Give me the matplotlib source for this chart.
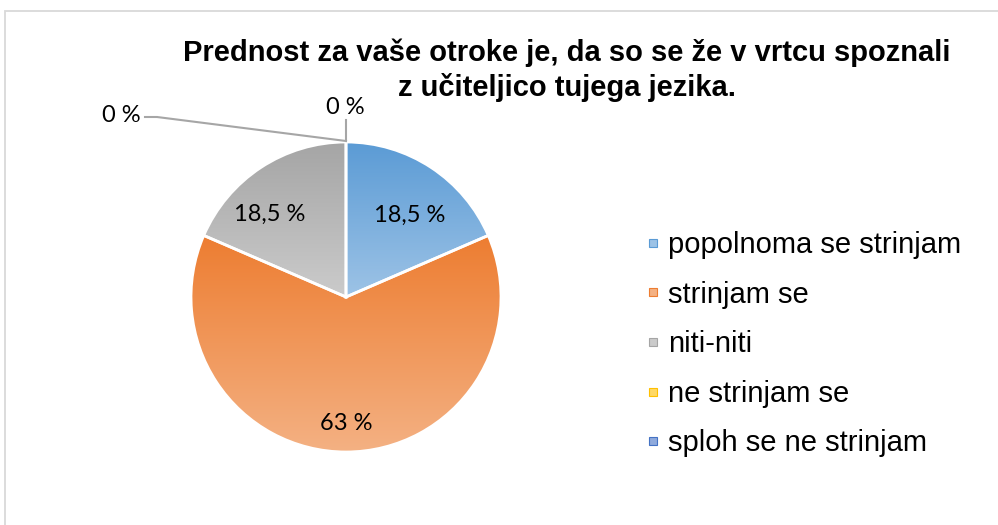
import numpy as np
import matplotlib
matplotlib.use("Agg")
import matplotlib.pyplot as plt
from matplotlib.colors import LinearSegmentedColormap
from matplotlib.lines import Line2D
from matplotlib.patches import Rectangle

# ---- data ----
categories = ["popolnoma se strinjam", "strinjam se", "niti-niti",
              "ne strinjam se", "sploh se ne strinjam"]
values = [18.5, 63, 18.5, 0, 0]
title_lines = ["Prednost za vaše otroke je, da so se že v vrtcu spoznali",
               "z učiteljico tujega jezika."]

# ---- style ----
top_colors = ["#5B9BD5", "#ED7D31", "#A5A5A5", "#FFC000", "#4472C4"]
bot_colors = ["#9DC3E6", "#F4B183", "#CBCBCB", "#FFD966", "#8FAADC"]
W, H = 998, 525
cx, cy, R = 346, H - 297, 155
# label placement (radius in px, angle in degrees) for non-zero slices
label_pos = [(104, 52), (126, -90), (112, 132.8)]

fig = plt.figure(figsize=(W / 100, H / 100), dpi=100)
ax = fig.add_axes([0, 0, 1, 1])

wedges, _ = ax.pie(values, center=(cx, cy), radius=R, startangle=90,
                   counterclock=False,
                   wedgeprops=dict(edgecolor="white", linewidth=2))
ax.set_xlim(0, W)
ax.set_ylim(0, H)
ax.set_aspect("equal")
ax.axis("off")

# gradient fill for each wedge
for i, w in enumerate(wedges):
    if values[i] == 0:
        continue
    ext = w.get_path().get_extents(w.get_patch_transform())
    cmap = LinearSegmentedColormap.from_list("g", [bot_colors[i], top_colors[i]])
    grad = np.linspace(1, 0, 256).reshape(-1, 1)
    im = ax.imshow(grad, cmap=cmap, extent=[ext.x0, ext.x1, ext.y0, ext.y1],
                   origin="upper", aspect="auto", zorder=1)
    im.set_clip_path(w)
    w.set_facecolor("none")
    w.set_zorder(2)
ax.set_xlim(0, W)
ax.set_ylim(0, H)

def fmt(v):
    return ("%g" % v).replace(".", ",") + " %"

# inside labels
for i, v in enumerate(values):
    if v > 0:
        rr, ang = label_pos[i]
        ax.text(cx + rr * np.cos(np.radians(ang)), cy + rr * np.sin(np.radians(ang)),
                fmt(v), ha="center", va="center", fontsize=17, family="Lato",
                color="#000000", zorder=5)

# zero-value labels with leader lines
lead = "#A6A6A6"
ex, ey = cx, cy + R + 1
ax.text(345, H - 107, fmt(values[3]), ha="center", va="center", fontsize=17,
        family="Lato", zorder=5)
ax.plot([ex, ex], [ey, H - 120], color=lead, lw=1.5, zorder=4)
ax.text(121, H - 115, fmt(values[4]), ha="center", va="center", fontsize=17,
        family="Lato", zorder=5)
ax.plot([ex, 157, 145], [ey, H - 117, H - 117], color=lead, lw=1.5, zorder=4)

# title (two centred lines)
for k, line in enumerate(title_lines):
    ax.text(567, H - 53 - 35 * k, line, ha="center", va="center", fontsize=21,
            fontweight="bold", family="Liberation Sans", zorder=5)

# legend
handles = [Line2D([], [], marker="s", linestyle="none", markersize=6,
                  markerfacecolor=bot_colors[i], markeredgecolor=top_colors[i],
                  markeredgewidth=0.8) for i in range(len(categories))]
leg = ax.legend(handles, categories, loc="upper left",
                bbox_to_anchor=(647 / W, 1 - 231 / H), frameon=False,
                prop=dict(family="Liberation Sans", size=21),
                handlelength=0.4, handletextpad=0.32, labelspacing=0.74,
                borderpad=0, borderaxespad=0)

# outer border
ax.add_patch(Rectangle((5, -10), W + 20, H - 11 + 10, fill=False,
                       edgecolor="#D9D9D9", lw=1.3, zorder=0))

fig.savefig("out.png", dpi=100)
